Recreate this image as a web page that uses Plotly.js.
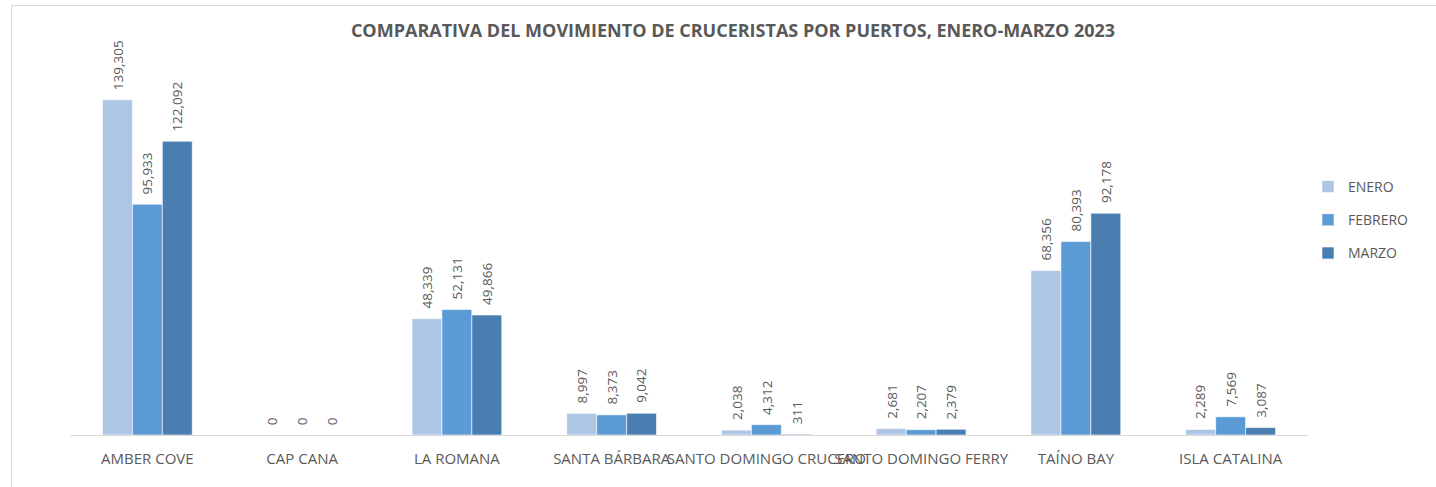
<!DOCTYPE html>
<html>
<head>
<meta charset="utf-8">
<script src="https://cdn.plot.ly/plotly-3.0.1.min.js"></script>
<style>
  html, body { margin: 0; padding: 0; background: #fff; }
  #chart { width: 1436px; height: 487px; }
  #frame { position: absolute; left: 11px; top: 5px; width: 1500px; height: 600px;
           border-left: 1px solid #d9d9d9; border-top: 1px solid #d9d9d9; pointer-events: none; }
</style>
</head>
<body>
<div id="chart"></div>
<div id="frame"></div>
<script>
  // Cruceristas por puerto, enero-marzo 2023
  const puertos = ['AMBER COVE', 'CAP CANA', 'LA ROMANA', 'SANTA BÁRBARA',
    'SANTO DOMINGO CRUCERO', 'SANTO DOMINGO FERRY', 'TAÍNO BAY', 'ISLA CATALINA'];
  const meses = ['ENERO', 'FEBRERO', 'MARZO'];
  const enero = [139305, 0, 48339, 8997, 2038, 2681, 68356, 2289];
  const febrero = [95933, 0, 52131, 8373, 4312, 2207, 80393, 7569];
  const marzo = [122092, 0, 49866, 9042, 311, 2379, 92178, 3087];

  const series = [enero, febrero, marzo];
  const COLORS = ['#adc6e6', '#5b9bd5', '#4a7eb1'];
  const FONT = '"Open Sans", sans-serif';
  const GREY = '#595959';
  const BAR_PX = 30; // approx width of one bar, for label offsets

  const traces = series.map((vals, i) => ({
    type: 'bar',
    name: meses[i],
    legendgroup: meses[i],
    x: puertos,
    y: vals,
    marker: { color: COLORS[i], line: { color: '#ffffff', width: 0.6 } },
    hovertemplate: '%{x}: %{y:,}<extra>' + meses[i] + '</extra>',
  }));

  // rotated value labels above each bar
  const labels = [];
  series.forEach((vals, i) => {
    vals.forEach((v, j) => {
      labels.push({
        x: puertos[j], y: v, xref: 'x', yref: 'y',
        text: v.toLocaleString('en-US'),
        showarrow: false, textangle: -90,
        xanchor: 'center', yanchor: 'bottom',
        xshift: (i - 1) * BAR_PX, yshift: 8,
        font: { family: FONT, size: 13.5, color: GREY },
      });
    });
  });

  Plotly.newPlot('chart', traces, {
    width: 1436,
    height: 487,
    paper_bgcolor: '#fff',
    plot_bgcolor: '#fff',
    font: { family: FONT, color: GREY, size: 14 },
    margin: { t: 50, r: 128, b: 52, l: 70 },
    barmode: 'group',
    bargap: 0.42,
    bargroupgap: 0,
    title: {
      text: '<b>COMPARATIVA DEL MOVIMIENTO DE CRUCERISTAS POR PUERTOS, ENERO-MARZO 2023</b>',
      font: { family: FONT, size: 18, color: GREY },
      xref: 'container', x: 733 / 1436, xanchor: 'center',
      yref: 'container', y: 1 - 31 / 487, yanchor: 'middle',
    },
    xaxis: {
      showline: true, linecolor: '#d9d9d9', linewidth: 1,
      ticks: '', tickangle: 0, ticklabelstandoff: 10,
      tickfont: { size: 15, color: GREY },
      showgrid: false, zeroline: false,
    },
    yaxis: {
      range: [0, 160000], visible: false, showgrid: false, zeroline: false,
    },
    annotations: labels,
    legend: {
      xref: 'container', yref: 'container',
      x: 1308 / 1436, xanchor: 'left',
      y: 1 - 220 / 487, yanchor: 'middle',
      font: { size: 14, color: GREY },
      tracegroupgap: 12,
      itemwidth: 30,
    },
  }, { displayModeBar: false, staticPlot: true });
</script>
</body>
</html>
